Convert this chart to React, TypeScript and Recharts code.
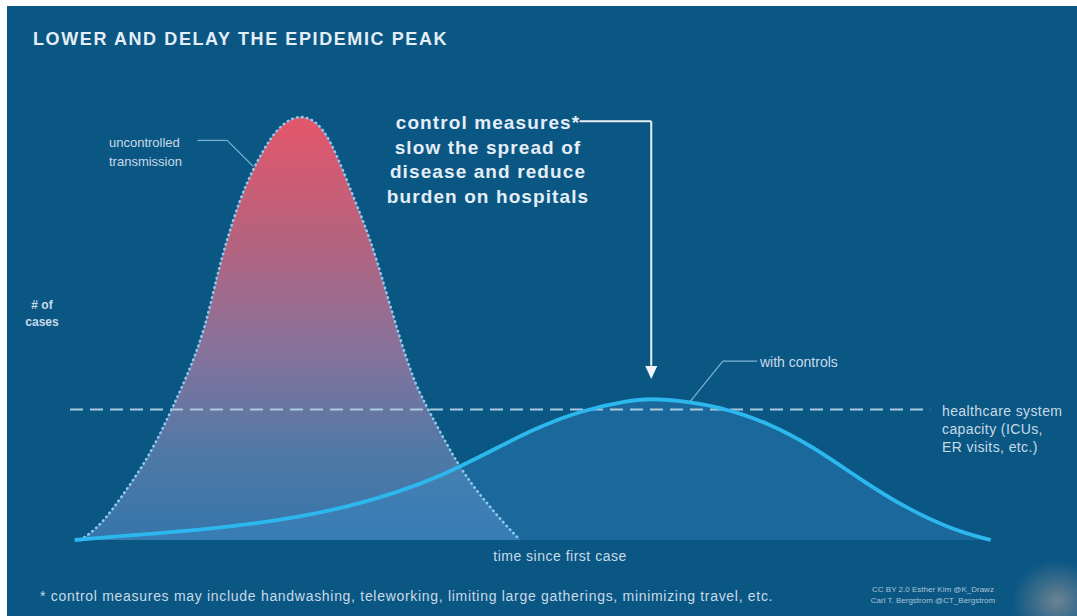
import React from 'react';
import {
  ComposedChart,
  Area,
  Line,
  XAxis,
  YAxis,
  ReferenceLine,
  ReferenceDot,
} from 'recharts';

// time since first case (0-100) and # of cases (0-100), uncontrolled transmission
const uncontrolledTime = [1.1, 3.2, 6.1, 8.6, 10.8, 12.9, 14.5, 15.8, 16.9, 18.3, 19.7, 21.5, 23.1, 24.7, 26.3, 28.0, 30.4, 32.3, 33.9, 35.5, 37.1, 38.7, 41.2, 43.0, 44.8, 46.8, 48.4];
const uncontrolledCases = [0, 2.9, 11.2, 19.1, 28.5, 38.2, 47.2, 59.1, 67.4, 76.4, 83.1, 89.9, 93.6, 95.0, 94.0, 89.9, 77.1, 67.4, 56.2, 44.9, 34.8, 28.5, 18.7, 13.0, 8.3, 3.4, 0];

// same axes, with control measures
const controlledTime = [0.5, 5, 10, 15, 20, 25, 30, 35, 40, 45, 50, 55, 60, 62.5, 65, 70, 75, 80, 85, 90, 95, 99];
const controlledCases = [0, 0.8, 1.6, 2.5, 3.7, 5.3, 7.5, 10.5, 14.4, 19.6, 25.0, 29.0, 31.2, 31.6, 31.3, 29.8, 26.3, 20.8, 13.5, 7.0, 2.2, 0];

const healthcareCapacity = 29.2;

const titleText = 'LOWER AND DELAY THE EPIDEMIC PEAK';
const calloutLines = ['control measures*', 'slow the spread of', 'disease and reduce', 'burden on hospitals'];
const uncontrolledLabel = ['uncontrolled', 'transmission'];
const controlledLabel = 'with controls';
const capacityLabel = ['healthcare system', 'capacity (ICUs,', 'ER visits, etc.)'];
const yAxisLabel = ['# of', 'cases'];
const xAxisLabel = 'time since first case';
const footnote = '* control measures may include handwashing, teleworking, limiting large gatherings, minimizing travel, etc.';
const credits = ['CC BY 2.0 Esther Kim  @K_Drawz', 'Carl T. Bergstrom  @CT_Bergstrom'];

const uncontrolledData = uncontrolledTime.map((t, i) => ({ t, v: uncontrolledCases[i] }));
const controlledData = controlledTime.map((t, i) => ({ t, v: controlledCases[i] }));
const controlledPeak = controlledData.reduce((a, b) => (b.v > a.v ? b : a));

const W = 1077;
const H = 616;
const BG = '#0b5784';
const AXIS = '#5cb6e4';
const TEXT = '#e4eef6';
const SMALL = '#c8dae8';
const FONT = '"Liberation Sans", Arial, sans-serif';

const Arrowhead = (props: any) => {
  const { cx, cy } = props;
  if (cx == null || cy == null) return null;
  return <polygon points={`${cx - 6},${cy - 13} ${cx + 6},${cy - 13} ${cx},${cy}`} fill="#f2f6fa" />;
};

const App: React.FC = () => {
  return (
    <div style={{ position: 'absolute', left: 0, top: 0, width: W, height: H, background: '#ffffff', overflow: 'hidden' }}>
      <div style={{ position: 'absolute', left: 7, top: 6, right: 0, bottom: 0, background: BG }} />
      <div
        style={{
          position: 'absolute',
          right: -25,
          bottom: -25,
          width: 90,
          height: 80,
          background: 'radial-gradient(closest-side, rgba(125,138,148,0.85), rgba(125,138,148,0))',
        }}
      />
      <div style={{ position: 'absolute', left: 0, top: 0 }}>
        <ComposedChart width={W} height={H} margin={{ top: 93, right: 77, bottom: 76, left: 70 }}>
          <defs>
            <linearGradient id="uncontrolledFill" x1="0" y1="0" x2="0" y2="1">
              <stop offset="0%" stopColor="#e4566a" />
              <stop offset="30%" stopColor="#b4637f" />
              <stop offset="55%" stopColor="#87729b" />
              <stop offset="80%" stopColor="#4f79a6" />
              <stop offset="100%" stopColor="#3675aa" />
            </linearGradient>
          </defs>
          <XAxis
            dataKey="t"
            type="number"
            domain={[0, 100]}
            height={0}
            tick={false}
            tickLine={false}
            axisLine={{ stroke: AXIS, strokeWidth: 2.5 }}
          />
          <YAxis
            type="number"
            domain={[0, 100]}
            width={0}
            tick={false}
            tickLine={false}
            axisLine={{ stroke: AXIS, strokeWidth: 2.5 }}
          />
          <Area
            data={uncontrolledData}
            dataKey="v"
            type="basis"
            stroke="none"
            fill="url(#uncontrolledFill)"
            fillOpacity={1}
            isAnimationActive={false}
          />
          <Area
            data={controlledData}
            dataKey="v"
            type="basis"
            stroke="none"
            fill="#3a8cc8"
            fillOpacity={0.35}
            isAnimationActive={false}
          />
          <ReferenceLine
            segment={[{ x: 0, y: healthcareCapacity }, { x: 92.5, y: healthcareCapacity }]}
            stroke="#a9c9df"
            strokeWidth={2}
            strokeDasharray="13 7"
          />
          <Line
            data={uncontrolledData}
            dataKey="v"
            type="basis"
            stroke="#8ccaf0"
            strokeWidth={2.6}
            strokeDasharray="0.5 4.5"
            strokeLinecap="round"
            dot={false}
            isAnimationActive={false}
          />
          <Line
            data={controlledData}
            dataKey="v"
            type="basis"
            stroke="#2cb8ee"
            strokeWidth={3.8}
            dot={false}
            isAnimationActive={false}
          />
          {/* leader for the uncontrolled curve */}
          <ReferenceLine segment={[{ x: 13.7, y: 89.4 }, { x: 16.9, y: 89.4 }]} stroke="#7fb3d6" strokeWidth={1.2} />
          <ReferenceLine segment={[{ x: 16.9, y: 89.4 }, { x: 19.7, y: 83.6 }]} stroke="#7fb3d6" strokeWidth={1.2} />
          {/* leader for the controlled curve */}
          <ReferenceLine segment={[{ x: 66.7, y: 31.0 }, { x: 70.2, y: 40.0 }]} stroke="#7fb3d6" strokeWidth={1.2} />
          <ReferenceLine segment={[{ x: 70.2, y: 40.0 }, { x: 73.9, y: 40.0 }]} stroke="#7fb3d6" strokeWidth={1.2} />
          {/* callout arrow down to the delayed peak */}
          <ReferenceLine segment={[{ x: 54.8, y: 93.7 }, { x: controlledPeak.t, y: 93.7 }]} stroke="#e8f0f6" strokeWidth={2} />
          <ReferenceLine segment={[{ x: controlledPeak.t, y: 93.7 }, { x: controlledPeak.t, y: 39 }]} stroke="#e8f0f6" strokeWidth={2} />
          <ReferenceDot x={controlledPeak.t} y={36} r={0} shape={Arrowhead} />
        </ComposedChart>
      </div>
      <svg width={W} height={H} style={{ position: 'absolute', left: 0, top: 0, pointerEvents: 'none' }} fontFamily={FONT}>
        <text x={33} y={45} fill={TEXT} fontSize={18} fontWeight={700} letterSpacing={1.6}>
          {titleText}
        </text>
        {calloutLines.map((line, i) => (
          <text key={line} x={488} y={129 + i * 24.5} fill={TEXT} fontSize={19} fontWeight={700} letterSpacing={1.1} textAnchor="middle">
            {line}
          </text>
        ))}
        {uncontrolledLabel.map((line, i) => (
          <text key={line} x={109} y={147 + i * 19} fill={SMALL} fontSize={13}>
            {line}
          </text>
        ))}
        <text x={760} y={367} fill={SMALL} fontSize={14}>
          {controlledLabel}
        </text>
        {capacityLabel.map((line, i) => (
          <text key={line} x={942} y={416 + i * 18} fill={SMALL} fontSize={14} letterSpacing={0.4}>
            {line}
          </text>
        ))}
        {yAxisLabel.map((line, i) => (
          <text key={line} x={42} y={309 + i * 17} fill={SMALL} fontSize={12} fontWeight={700} textAnchor="middle">
            {line}
          </text>
        ))}
        <text x={560} y={561} fill={SMALL} fontSize={14} letterSpacing={0.5} textAnchor="middle">
          {xAxisLabel}
        </text>
        <text x={40} y={601} fill={SMALL} fontSize={14} letterSpacing={0.7}>
          {footnote}
        </text>
        {credits.map((line, i) => (
          <text key={line} x={933} y={592 + i * 11} fill="#a9c3d6" fontSize={8} textAnchor="middle">
            {line}
          </text>
        ))}
      </svg>
    </div>
  );
};

export default App;
